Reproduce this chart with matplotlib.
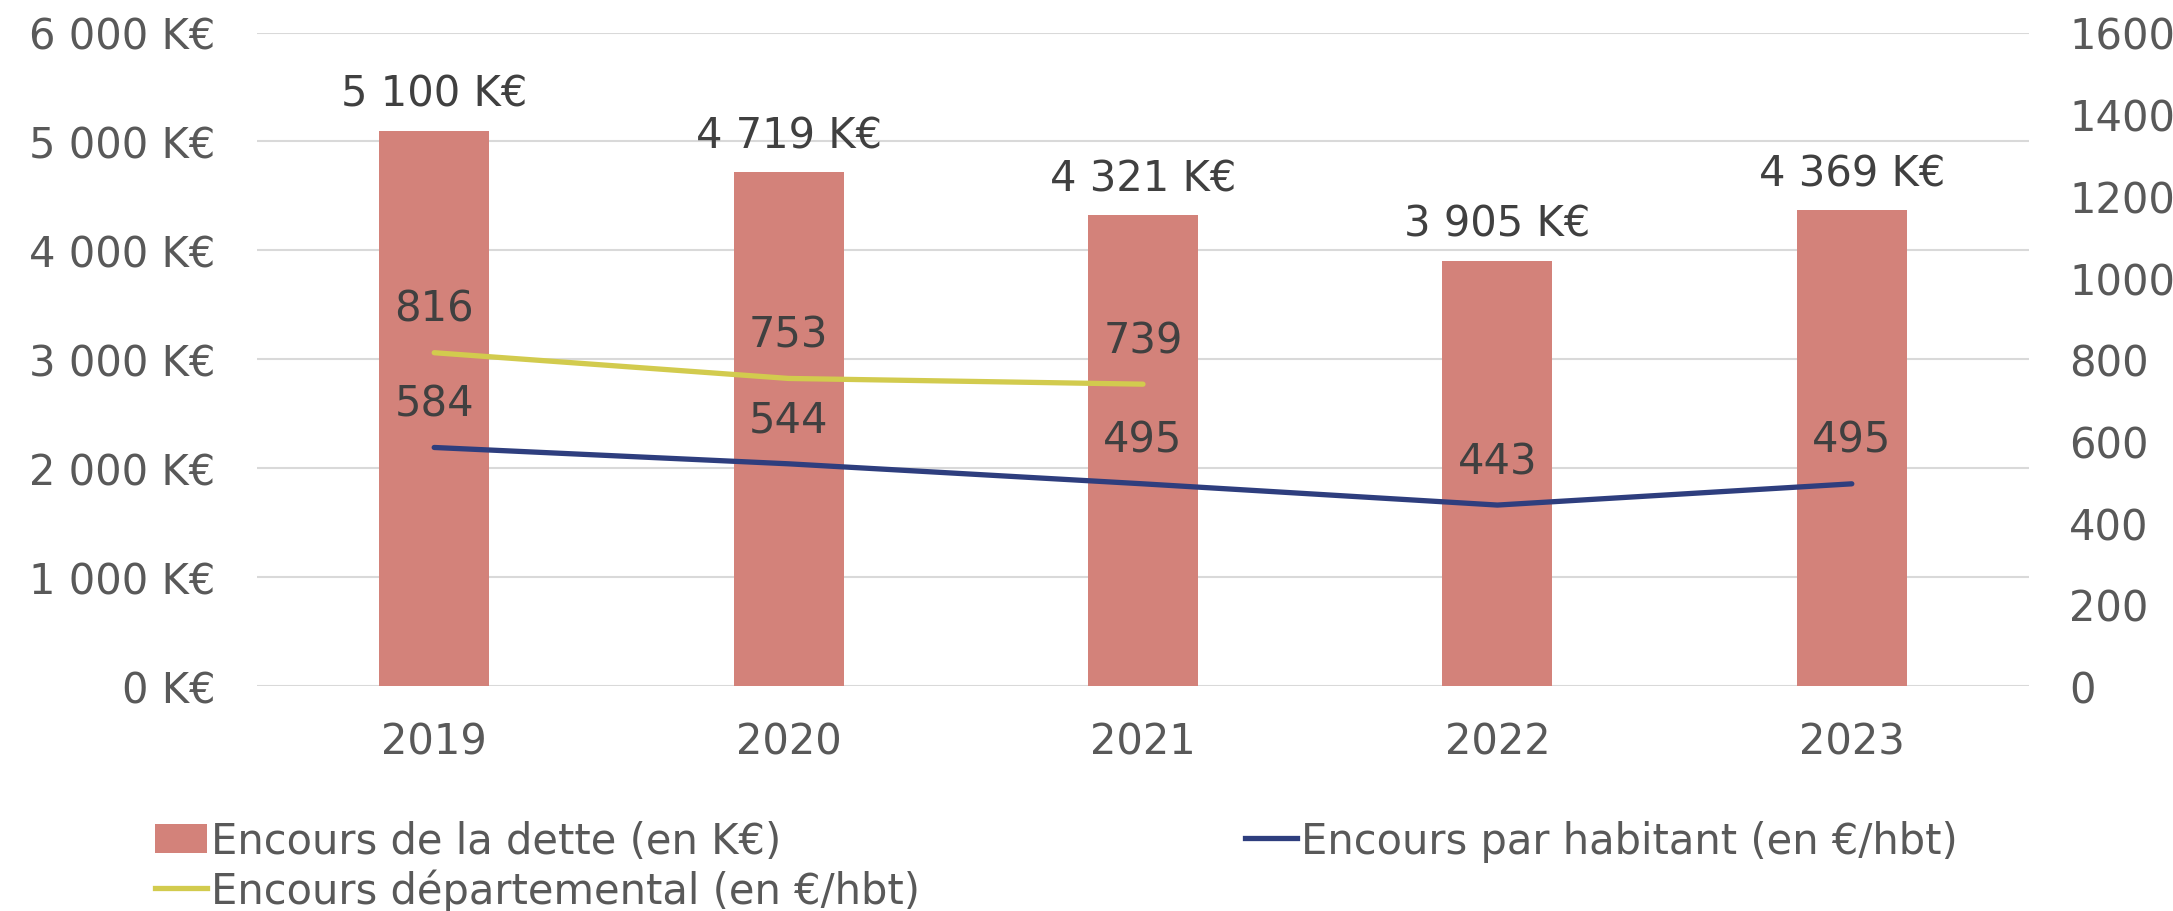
#!/usr/bin/env python3

import numpy as np
import matplotlib
matplotlib.use("Agg")
import matplotlib.pyplot as plt
from matplotlib.patches import Patch
from matplotlib.lines import Line2D

# Data
years = ["2019", "2020", "2021", "2022", "2023"]
dette = [5100, 4719, 4321, 3905, 4369]          # K€
par_habitant = [584, 544, 495, 443, 495]        # €/hbt
departemental = [816, 753, 739]                 # €/hbt, 2019-2021 only

left_ticks = [0, 1000, 2000, 3000, 4000, 5000, 6000]
right_ticks = [0, 200, 400, 600, 800, 1000, 1200, 1400, 1600]

bar_color = "#D3827A"
blue = "#2E3E7E"
yellow = "#D2CB4E"
tick_grey = "#595959"
label_grey = "#404040"
grid_grey = "#D9D9D9"


def fmt_k(v):
    return f"{v:,}".replace(",", " ") + " K€"


plt.rcParams["font.family"] = ["DejaVu Sans"]
fs = 30

fig = plt.figure(figsize=(21.73, 9.12), dpi=100)
ax = fig.add_axes([257 / 2173, 1 - 687 / 912, (2029 - 257) / 2173, (687 - 33.5) / 912])
ax2 = ax.twinx()

x = np.arange(len(years))

## Bars on the left axis
bars = ax.bar(x, dette, width=0.31, color=bar_color, zorder=2)
for xi, v in zip(x, dette):
    ax.annotate(fmt_k(v), (xi, v), xytext=(0, 37), textcoords="offset pixels",
                ha="center", va="center", fontsize=fs, color=label_grey)

ax.set_xlim(-0.5, len(years) - 0.5)
ax.set_ylim(0, 6000)
ax.set_yticks(left_ticks)
ax.set_yticklabels([fmt_k(t) for t in left_ticks])
ax.set_xticks(x)
ax.set_xticklabels(years)
ax.grid(axis="y", color=grid_grey, lw=1.5, zorder=0)
ax.set_axisbelow(True)
ax.tick_params(axis="both", length=0, labelsize=fs, labelcolor=tick_grey)
ax.tick_params(axis="y", pad=30)
ax.tick_params(axis="x", pad=25)

## Lines on the right axis
line_blue, = ax2.plot(x, par_habitant, color=blue, lw=3.8, solid_capstyle="round")
x_dep = x[:len(departemental)]
line_yellow, = ax2.plot(x_dep, departemental, color=yellow, lw=3.8, solid_capstyle="round")
for xi, v in zip(x, par_habitant):
    ax2.annotate(str(v), (xi, v), xytext=(0, 44), textcoords="offset pixels",
                 ha="center", va="center", fontsize=fs, color=label_grey)
for xi, v in zip(x_dep, departemental):
    ax2.annotate(str(v), (xi, v), xytext=(0, 44), textcoords="offset pixels",
                 ha="center", va="center", fontsize=fs, color=label_grey)

ax2.set_ylim(0, 1600)
ax2.set_yticks(right_ticks)
ax2.tick_params(axis="y", length=0, labelsize=fs, labelcolor=tick_grey, pad=29)

for a in (ax, ax2):
    for s in a.spines.values():
        s.set_visible(False)

## Legend, split in two blocks to place the second column like the original
h_bar = Patch(facecolor=bar_color, edgecolor="none")
h_yel = Line2D([], [], color=yellow, lw=3.8)
h_blue = Line2D([], [], color=blue, lw=3.8)
leg_kw = dict(frameon=False, fontsize=fs, handlelength=1.25, handletextpad=0.1,
              labelspacing=0.15, borderpad=0, borderaxespad=0, loc="upper left",
              labelcolor=tick_grey)
fig.legend([h_bar, h_yel], ["Encours de la dette (en K€)", "Encours départemental (en €/hbt)"],
           bbox_to_anchor=(155 / 2173, 1 - 821 / 912), **leg_kw)
fig.legend([h_blue], ["Encours par habitant (en €/hbt)"],
           bbox_to_anchor=(1245 / 2173, 1 - 821 / 912), **leg_kw)

fig.savefig("out.png", dpi=100)
